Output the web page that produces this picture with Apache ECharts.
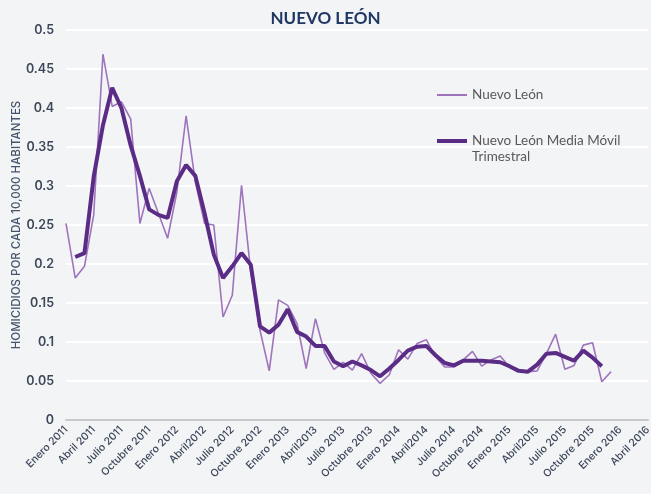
<!DOCTYPE html>
<html>
<head>
<meta charset="utf-8">
<script src="https://cdn.jsdelivr.net/npm/echarts@6/dist/echarts.min.js"></script>
<style>
  html, body { margin: 0; padding: 0; background: #f3f4f6; }
  #chart { width: 651px; height: 494px; }
</style>
</head>
<body>
<div id="chart"></div>
<script>
// meses Enero 2011 .. Abril 2016
const monthNames = ['Enero', 'Febrero', 'Marzo', 'Abril', 'Mayo', 'Junio', 'Julio', 'Agosto', 'Septiembre', 'Octubre', 'Noviembre', 'Diciembre']
const years = [2011, 2012, 2013, 2014, 2015, 2016]
const categories = []
years.forEach(y => monthNames.forEach(m => categories.push(m + ' ' + y)))
categories.length = 64

const tickLabels = [
  'Enero 2011', 'Abril 2011', 'Julio 2011', 'Octubre 2011',
  'Enero 2012', 'Abril2012', 'Julio 2012', 'Octubre 2012',
  'Enero 2013', 'Abril2013', 'Julio 2013', 'Octubre 2013',
  'Enero 2014', 'Abril2014', 'Julio 2014', 'Octubre 2014',
  'Enero 2015', 'Abril2015', 'Julio 2015', 'Octubre 2015',
  'Enero 2016', 'Abril 2016'
]

// tasa mensual
const nuevoLeon = [
  0.252, 0.182, 0.197, 0.263, 0.469, 0.402, 0.408, 0.386, 0.252, 0.297, 0.265, 0.233,
  0.292, 0.390, 0.305, 0.252, 0.250, 0.132, 0.160, 0.301, 0.190, 0.115, 0.063, 0.154,
  0.147, 0.124, 0.066, 0.130, 0.086, 0.065, 0.074, 0.064, 0.085, 0.060, 0.047, 0.058,
  0.090, 0.078, 0.098, 0.103, 0.081, 0.068, 0.068, 0.077, 0.088, 0.069, 0.077, 0.082,
  0.068, 0.063, 0.062, 0.063, 0.085, 0.110, 0.065, 0.070, 0.096, 0.099, 0.049, 0.062
]

// media movil trimestral
const mediaMovil = [
  null, 0.209, 0.214, 0.312, 0.378, 0.426, 0.400, 0.352, 0.313, 0.270, 0.263, 0.259,
  0.306, 0.327, 0.313, 0.265, 0.212, 0.182, 0.197, 0.214, 0.199, 0.120, 0.112, 0.122,
  0.142, 0.113, 0.107, 0.095, 0.095, 0.075, 0.069, 0.075, 0.070, 0.064, 0.056, 0.066,
  0.077, 0.089, 0.094, 0.095, 0.083, 0.073, 0.070, 0.076, 0.076, 0.076, 0.075, 0.074,
  0.069, 0.063, 0.062, 0.071, 0.085, 0.086, 0.081, 0.076, 0.089, 0.080, 0.069
]

const labelColor = '#3b4658'
const legendText = { fontFamily: 'Lato', fontSize: 13.5, color: '#595959' }
const chart = echarts.init(document.getElementById('chart'))

chart.setOption({
  backgroundColor: '#f3f4f6',
  animation: false,
  title: {
    text: 'NUEVO LEÓN',
    left: 'center',
    top: 5,
    textStyle: { fontFamily: 'Lato', fontWeight: 'bold', fontSize: 17, color: '#1f3864' }
  },
  legend: [{
    data: ['Nuevo León'],
    orient: 'vertical',
    left: 437,
    top: 88,
    padding: 0,
    icon: 'rect',
    itemWidth: 30,
    itemHeight: 2,
    textStyle: legendText
  }, {
    data: ['Nuevo León Media Móvil Trimestral'],
    orient: 'vertical',
    left: 437,
    top: 134,
    padding: 0,
    icon: 'rect',
    itemWidth: 30,
    itemHeight: 4,
    formatter: () => 'Nuevo León Media Móvil',
    textStyle: legendText
  }],
  graphic: [{
    type: 'text',
    left: 472,
    top: 150,
    style: { text: 'Trimestral', font: '13.5px Lato', fill: '#595959' }
  }],
  grid: { left: 66, right: 3, top: 30, bottom: 74, outerBoundsMode: 'none' },
  xAxis: {
    type: 'category',
    data: categories,
    boundaryGap: false,
    axisLine: { lineStyle: { color: '#c6c8cc', width: 2 } },
    axisTick: { show: false },
    axisLabel: {
      interval: 2,
      rotate: 45,
      margin: 8,
      fontFamily: 'Inter',
      fontSize: 10.5,
      fontWeight: 500,
      color: labelColor,
      formatter: (v, i) => tickLabels[i / 3]
    }
  },
  yAxis: {
    type: 'value',
    min: 0,
    max: 0.5,
    interval: 0.05,
    name: 'HOMICIDIOS POR CADA 10,000 HABITANTES',
    nameLocation: 'middle',
    nameGap: 43,
    nameMoveOverlap: false,
    nameTextStyle: { fontFamily: 'Inter', fontSize: 11.5, fontWeight: 500, color: '#44546a' },
    axisLine: { show: false },
    axisTick: { show: false },
    splitLine: { lineStyle: { color: '#ffffff', width: 2 } },
    axisLabel: {
      margin: 12,
      fontFamily: 'Inter',
      fontSize: 12.5,
      fontWeight: 600,
      color: labelColor
    }
  },
  series: [{
    name: 'Nuevo León',
    type: 'line',
    data: nuevoLeon,
    symbol: 'none',
    lineStyle: { color: '#9f74bd', width: 1.6 },
    itemStyle: { color: '#9f74bd' }
  }, {
    name: 'Nuevo León Media Móvil Trimestral',
    type: 'line',
    data: mediaMovil,
    symbol: 'none',
    lineStyle: { color: '#5b2c86', width: 4 },
    itemStyle: { color: '#5b2c86' }
  }]
})
</script>
</body>
</html>
